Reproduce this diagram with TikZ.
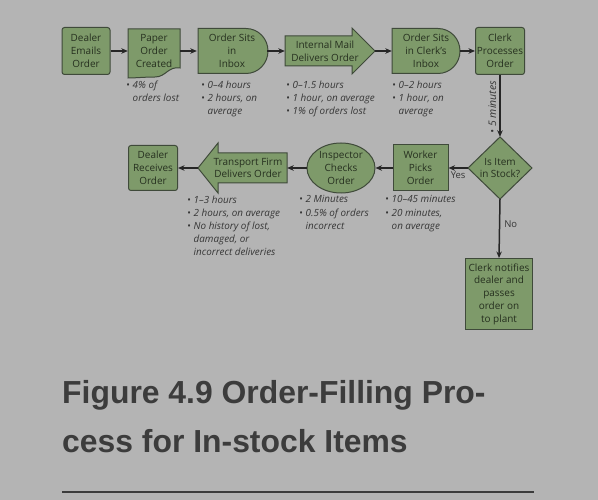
\documentclass[tikz,border=0pt]{standalone}
\usepackage{fontspec}
\setmainfont{Open Sans}
\newfontfamily\titlefont{Liberation Sans}
\usetikzlibrary{arrows.meta,shapes.geometric}
\definecolor{bg}{HTML}{B4B4B4}
\definecolor{boxfill}{HTML}{7E9A6A}
\definecolor{boxline}{HTML}{3F4A3A}
\definecolor{ink}{HTML}{26301F}
\definecolor{notec}{HTML}{363636}
\definecolor{titlec}{HTML}{3C3C3C}
\newcommand\bu{\makebox[6.5bp][l]{\textbullet}}
\newcommand\nb{\hspace*{6.5bp}}
\begin{document}
\begin{tikzpicture}[x=1bp,y=-1bp,
  shp/.style={fill=boxfill, draw=boxline, line width=1bp},
  lbl/.style={font=\fontsize{10}{12.8}\selectfont, text=ink, align=center, inner sep=0pt},
  boxr/.style={shp, lbl, rounded corners=2.5bp, rectangle},
  boxs/.style={shp, lbl, rectangle},
  bare/.style={lbl, rectangle},
  notes/.style={font=\fontsize{9.9}{13.2}\selectfont\itshape, text=notec, align=left, anchor=north west, inner sep=0pt},
  tag/.style={font=\fontsize{9.5}{11}\selectfont, text=notec, inner sep=0pt},
  conn/.style={-{Stealth[length=6.5bp,width=5.5bp]}, line width=1.5bp, draw=black!85},
  ttl/.style={font=\titlefont\bfseries\fontsize{32}{36}\selectfont, text=titlec, anchor=base west, inner sep=0pt}]
\fill[bg] (0,0) rectangle (598,500);

% ---- shapes drawn directly ----
% paper document
\path[shp] (128,29) -- (180,29) -- (180,68) .. controls (168,66) and (166,77) .. (155,77) .. controls (145,77) and (135,78) .. (128,78) -- cycle;
% delay: order sits in inbox
\path[shp] (198,28.5) -- (246,28.5) .. controls (258.2,28.5) and (268,38.6) .. (268,51) .. controls (268,63.4) and (258.2,73.5) .. (246,73.5) -- (198,73.5) -- cycle;
% single arrow: internal mail
\path[shp] (285,36) -- (352,36) -- (352,28) -- (375,51) -- (352,74) -- (352,66) -- (285,66) -- cycle;
% delay: clerk's inbox
\path[shp] (392,28.5) -- (438,28.5) .. controls (450.2,28.5) and (460,38.6) .. (460,51) .. controls (460,63.4) and (450.2,73.5) .. (438,73.5) -- (392,73.5) -- cycle;
% left arrow: transport firm
\path[shp] (287,153) -- (218,153) -- (218,143) -- (198,168) -- (218,193) -- (218,183) -- (287,183) -- cycle;
% diamond
\path[shp] (500,137) -- (532,168) -- (500,199) -- (468,168) -- cycle;

% ---- nodes ----
\node[boxr, minimum width=48bp, minimum height=47bp] (dealer) at (86,51) {Dealer\\Emails\\Order};
\node[bare, minimum width=52bp, minimum height=44bp] (paper) at (154,51) {Paper\\Order\\Created};
\node[bare, minimum width=70bp, minimum height=45bp] (inbox) at (232,51) {Order Sits\\in\\Inbox};
\node[bare, minimum width=90bp, minimum height=46bp] (mail) at (330,51) {Internal Mail\hspace*{10bp}\\Delivers Order\hspace*{10bp}};
\node[bare, minimum width=68bp, minimum height=45bp] (cinbox) at (426,51) {Order Sits\\in Clerk's\\Inbox};
\node[boxr, minimum width=49bp, minimum height=47bp] (clerk) at (500,51) {Clerk\\Processes\\Order};

\node[bare, minimum width=64bp, minimum height=62bp] (stock) at (500,168) {Is Item\\in Stock?};
\node[boxs, minimum width=55bp, minimum height=46bp] (worker) at (420.5,168) {Worker\\Picks\\Order};
\node[shp, lbl, ellipse, minimum width=68bp, minimum height=50bp] (insp) at (341,168) {Inspector\\Checks\\Order};
\node[bare, minimum width=89bp, minimum height=50bp] (trans) at (242.5,168) {\hspace*{11bp}Transport Firm\\\hspace*{11bp}Delivers Order};
\node[boxr, minimum width=49bp, minimum height=45bp] (recv) at (153,168) {Dealer\\Receives\\Order};
\node[boxs, minimum width=67bp, minimum height=71bp] (notify) at (499,294) {Clerk notifies\\dealer and\\passes\\order on\\to plant};

% ---- connectors ----
\draw[conn] (dealer.east) -- (paper.west);
\draw[conn] (paper.east) -- (inbox.west);
\draw[conn] (inbox.east) -- (mail.west);
\draw[conn] (mail.east) -- (cinbox.west);
\draw[conn] (cinbox.east) -- (clerk.west);
\draw[conn] (clerk.south) -- node[tag, font=\fontsize{10.5}{11}\selectfont\itshape, rotate=90, anchor=south, inner sep=3bp, pos=0.52] (five) {\textbullet\ 5 minutes} (stock.north);
\draw[conn] (stock.west) -- node[tag, below=3bp] (yes) {Yes} (worker.east);
\draw[conn] (worker.west) -- (insp.east);
\draw[conn] (insp.west) -- (trans.east);
\draw[conn] (trans.west) -- (recv.east);
\draw[conn] (stock.south) -- node[tag, right=4bp, pos=0.42] (no) {No} (notify.north);

% ---- notes ----
\node[notes] (n1) at (126,80.5) {\bu4\% of\\\nb orders lost};
\node[notes] (n2) at (201,80.5) {\bu0--4 hours\\\bu2 hours, on\\\nb average};
\node[notes] (n3) at (286,80.5) {\bu0--1.5 hours\\\bu1 hour, on average\\\bu1\% of orders lost};
\node[notes] (n4) at (392,80.5) {\bu0--2 hours\\\bu1 hour, on\\\nb average};
\node[notes] (n5) at (187,195.5) {\bu1--3 hours\\\bu2 hours, on average\\\bu No history of lost,\\\nb damaged, or\\\nb incorrect deliveries};
\node[notes] (n6) at (299,195.5) {\bu2 Minutes\\\bu0.5\% of orders\\\nb incorrect};
\node[notes] (n7) at (385,195.5) {\bu10--45 minutes\\\bu20 minutes,\\\nb on average};

% ---- title ----
\node[ttl] (t1) at (62,403) {Figure 4.9 Order-Filling Pro-};
\node[ttl] (t2) at (62,452) {cess for In-stock Items};
\draw[titlec, line width=2.5bp] (62,492) -- (534,492);
\end{tikzpicture}
\end{document}
